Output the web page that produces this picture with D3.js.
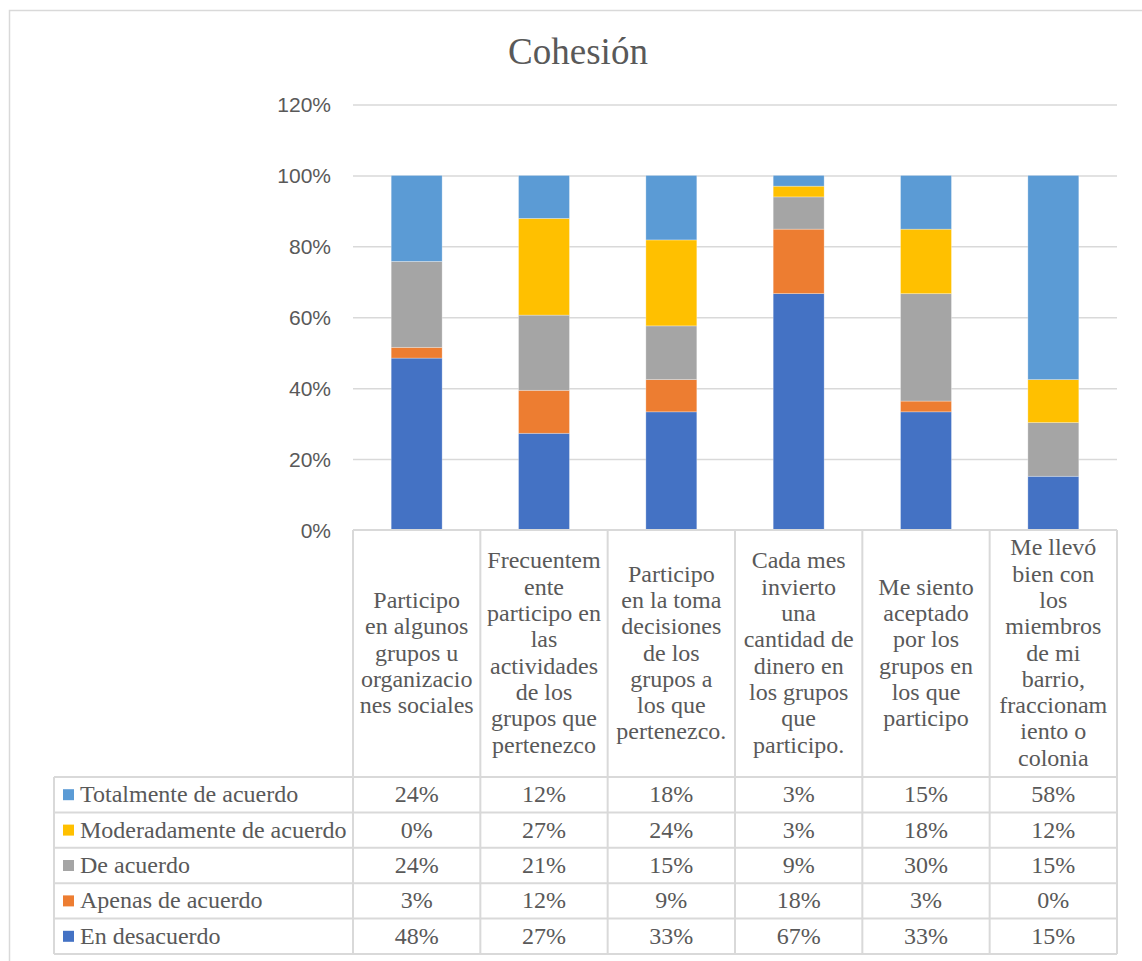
<!DOCTYPE html>
<html>
<head>
<meta charset="utf-8">
<script src="https://cdn.jsdelivr.net/npm/d3@7"></script>
<style>
  html, body { margin: 0; padding: 0; background: #fff; }
  svg { display: block; }
</style>
</head>
<body>
<svg id="chart" width="1142" height="961"></svg>
<script>
// ---- data ----
const categoryLines = [
  ["Participo", "en algunos", "grupos u", "organizacio", "nes sociales"],
  ["Frecuentem", "ente", "participo en", "las", "actividades", "de los", "grupos que", "pertenezco"],
  ["Participo", "en la toma", "decisiones", "de los", "grupos a", "los que", "pertenezco."],
  ["Cada mes", "invierto", "una", "cantidad de", "dinero en", "los grupos", "que", "participo."],
  ["Me siento", "aceptado", "por los", "grupos en", "los que", "participo"],
  ["Me llevó", "bien con", "los", "miembros", "de mi", "barrio,", "fraccionam", "iento o", "colonia"]
];
const categories = categoryLines.map(l => l.join(" "));

const seriesNames = ["En desacuerdo", "Apenas de acuerdo", "De acuerdo", "Moderadamente de acuerdo", "Totalmente de acuerdo"];
const seriesColors = ["#4472C4", "#ED7D31", "#A5A5A5", "#FFC000", "#5B9BD5"];

// values (percent) per series, one per category
const enDesacuerdo      = [48.48, 27.27, 33.33, 66.67, 33.33, 15.15];
const apenasDeAcuerdo   = [3.03, 12.12, 9.09, 18.18, 3.03, 0];
const deAcuerdo         = [24.24, 21.21, 15.15, 9.09, 30.30, 15.15];
const moderadamente     = [0, 27.27, 24.24, 3.03, 18.18, 12.12];
const totalmente        = [24.24, 12.12, 18.18, 3.03, 15.15, 57.58];
const seriesValues = [enDesacuerdo, apenasDeAcuerdo, deAcuerdo, moderadamente, totalmente];

const yTicks = [0, 0.2, 0.4, 0.6, 0.8, 1.0, 1.2];

// ---- layout ----
const svg = d3.select("#chart");
const textColor = "#595959";
const lineColor = "#D9D9D9";
const serif = "'Liberation Serif', 'Times New Roman', serif";
const sans = "'Liberation Sans', Arial, sans-serif";
const tableFont = 24;

const plotLeft = 353, plotRight = 1117, plotTop = 104.5, plotBottom = 530;
const tableLeft = 54;
const headerBottom = 777;
const rowH = 35.4;

// outer frame
svg.append("rect").attr("x", 9.5).attr("y", 10.5).attr("width", 1150).attr("height", 1000)
  .attr("fill", "none").attr("stroke", lineColor).attr("stroke-width", 1.5);

// title
svg.append("text").attr("x", 578).attr("y", 64).attr("text-anchor", "middle")
  .attr("font-family", serif).attr("font-size", 37).attr("fill", textColor).text("Cohesión");

const x = d3.scaleBand().domain(categories).range([plotLeft, plotRight]).padding(0);
const y = d3.scaleLinear().domain([0, 1.2]).range([plotBottom, plotTop]);

// gridlines
const grid = svg.append("g").attr("transform", `translate(${plotLeft},0)`)
  .call(d3.axisLeft(y).tickValues(yTicks.filter(t => t > 0)).tickSize(-(plotRight - plotLeft)).tickFormat(""));
grid.select(".domain").remove();
grid.selectAll("line").attr("stroke", lineColor).attr("stroke-width", 1.5);

// y axis labels
const yAxis = svg.append("g").attr("transform", `translate(${plotLeft - 22},0)`)
  .call(d3.axisLeft(y).tickValues(yTicks).tickSize(0).tickPadding(0).tickFormat(d3.format(".0%")));
yAxis.select(".domain").remove();
yAxis.selectAll("text").attr("font-family", sans).attr("font-size", 21).attr("fill", textColor).attr("dy", "0.34em");

// stacked bars
const rows = categories.map((c, i) => {
  const o = { cat: c };
  seriesNames.forEach((s, j) => o[s] = seriesValues[j][i] / 100);
  return o;
});
const stack = d3.stack().keys(seriesNames)(rows);
const barW = x.bandwidth() * 0.4;
svg.append("g").selectAll("g").data(stack).join("g")
  .attr("fill", (d, i) => seriesColors[i])
  .selectAll("rect").data(d => d).join("rect")
  .attr("x", d => x(d.data.cat) + (x.bandwidth() - barW) / 2)
  .attr("width", barW)
  .attr("y", d => y(d[1]))
  .attr("height", d => Math.max(0, y(d[0]) - y(d[1])))
  .attr("stroke", "#ffffff").attr("stroke-opacity", 0.35).attr("stroke-width", 0.8);

// ---- data table ----
const tbl = svg.append("g");
const tableBottom = headerBottom + rowH * seriesNames.length;

// horizontal lines
tbl.append("line").attr("x1", plotLeft).attr("x2", plotRight).attr("y1", plotBottom).attr("y2", plotBottom)
  .attr("stroke", lineColor).attr("stroke-width", 2);
for (let r = 0; r <= seriesNames.length; r++) {
  const yy = headerBottom + r * rowH;
  tbl.append("line").attr("x1", tableLeft).attr("x2", plotRight).attr("y1", yy).attr("y2", yy)
    .attr("stroke", lineColor).attr("stroke-width", 2);
}
// vertical lines
tbl.append("line").attr("x1", tableLeft).attr("x2", tableLeft).attr("y1", headerBottom).attr("y2", tableBottom)
  .attr("stroke", lineColor).attr("stroke-width", 2);
const colEdges = categories.map(c => x(c)).concat([plotRight]);
colEdges.forEach(cx => {
  tbl.append("line").attr("x1", cx).attr("x2", cx).attr("y1", plotBottom).attr("y2", tableBottom)
    .attr("stroke", lineColor).attr("stroke-width", 2);
});

// header labels
const lh = 26.3;
const headerMid = (plotBottom + headerBottom) / 2;
categoryLines.forEach((lines, i) => {
  const cx = x(categories[i]) + x.bandwidth() / 2;
  const t = tbl.append("text").attr("text-anchor", "middle").attr("font-family", serif)
    .attr("font-size", tableFont).attr("fill", textColor);
  lines.forEach((ln, k) => {
    t.append("tspan").attr("x", cx)
      .attr("y", headerMid + (k - (lines.length - 1) / 2) * lh + 7)
      .text(ln);
  });
});

// rows: top is Totalmente, bottom is En desacuerdo
const fmt = v => Math.round(v) + "%";
const order = [4, 3, 2, 1, 0];
order.forEach((si, r) => {
  const rowMid = headerBottom + r * rowH + rowH / 2;
  tbl.append("rect").attr("x", 63).attr("y", rowMid - 5.5).attr("width", 11).attr("height", 11)
    .attr("fill", seriesColors[si]);
  tbl.append("text").attr("x", 80).attr("y", rowMid + 7.5).attr("font-family", serif)
    .attr("font-size", tableFont).attr("fill", textColor).text(seriesNames[si]);
  seriesValues[si].forEach((v, ci) => {
    tbl.append("text").attr("x", x(categories[ci]) + x.bandwidth() / 2).attr("y", rowMid + 7.5)
      .attr("text-anchor", "middle").attr("font-family", serif).attr("font-size", tableFont)
      .attr("fill", textColor).text(fmt(v));
  });
});
</script>
</body>
</html>
